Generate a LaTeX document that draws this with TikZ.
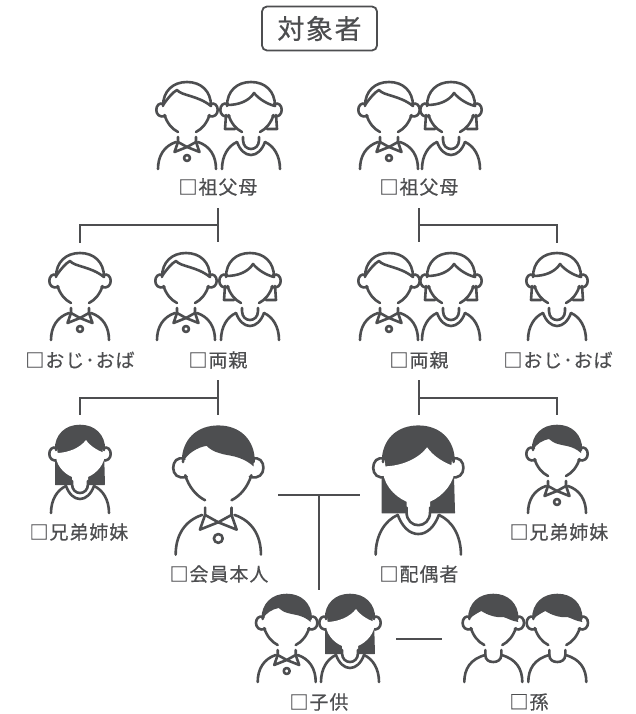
\documentclass[tikz,border=0pt]{standalone}
\usepackage{fontspec}
\setmainfont[FakeBold=0.4]{Noto Sans CJK JP}
\newfontfamily\jplabel[LetterSpace=5,FakeBold=0.4]{Noto Sans CJK JP}
\definecolor{inkgrey}{HTML}{4D4E50}

% ears and lower face, open at the chin
\newcommand{\earface}{
  \draw[fill=white] (-23,-2) .. controls (-33,-6) and (-34,14) .. (-21.5,10);
  \draw[fill=white] (23,-2) .. controls (33,-6) and (34,14) .. (21.5,10);
  \draw (-22.5,9) .. controls (-20,17) and (-15,23) .. (-9,26);
  \draw (22.5,9) .. controls (20,17) and (15,23) .. (9,26);
}
\newcommand{\shoulders}[1]{
  \draw (-29,63) .. controls (-29,50) and (-23,40) .. (-#1,36);
  \draw (29,63) .. controls (29,50) and (23,40) .. (#1,36);
}
% shirt with bow collar and button
\newcommand{\shirt}{
  \shoulders{11}
  \draw (-9,31) -- (-9,36) -- (0,41) -- (9,36) -- (9,31);
  \draw (-9,36) -- (-12.5,46) -- (0,41) -- (12.5,46) -- (9,36);
  \draw (0,52) circle (3);
}
% round neck with two curves
\newcommand{\roundneck}{
  \shoulders{14}
  \draw (-8,31) -- (-8,34) .. controls (-8,40) and (-4,43) .. (0,43) .. controls (4,43) and (8,40) .. (8,34) -- (8,31);
  \draw (-14,36) .. controls (-11,44) and (-6,49) .. (0,49) .. controls (6,49) and (11,44) .. (14,36);
}
\newcommand{\dome}{(-24,0) .. controls (-24,-15) and (-14,-24) .. (0,-24) .. controls (14,-24) and (24,-15) .. (24,0)}

\tikzset{
  person/.style={draw=inkgrey,fill=none,line width=2.6pt,line cap=round,line join=round},
  large/.style={scale=1.47,line width=3.4pt},
  label/.style={inner sep=0pt,text=inkgrey,font=\jplabel\fontsize{19}{19}\selectfont},
  link/.style={draw=inkgrey,line width=2.2pt},
  man/.pic={
    \begin{scope}[person]
    \earface
    \draw \dome;
    \draw (-24,-1) .. controls (-19,-8) and (-14,-14) .. (-10,-16) .. controls (-5,-10) and (10,-11) .. (24,0);
    \shirt
    \end{scope}
  },
  woman/.pic={
    \begin{scope}[person]
    \earface
    \draw \dome;
    \draw (-24,-1) .. controls (-12,-1) and (-2,-5) .. (3,-13) .. controls (8,-7) and (16,-2) .. (24,0);
    \draw (-25,9) -- (-26,23) -- (-16,23);
    \draw (25,9) -- (26,23) -- (16,23);
    \roundneck
    \end{scope}
  },
  darkman/.pic={
    \begin{scope}[person]
    \earface
    \fill[inkgrey] \dome -- (24,3) .. controls (15,-5) and (6,-4) .. (1,-6) .. controls (-3,-7) and (-6,-9) .. (-8,-11) .. controls (-14,-10) and (-21,-6) .. (-24,0) -- cycle;
    \draw \dome;
    \shirt
    \end{scope}
  },
  darkboy/.pic={
    \begin{scope}[person]
    \earface
    \fill[inkgrey] \dome -- (25,3) .. controls (18,2) and (14,-1) .. (10,-2) .. controls (3,-1) and (-6,-4) .. (-12,-8) .. controls (-16,-6) and (-21,-3) .. (-24,0) -- cycle;
    \draw \dome;
    \shoulders{8}
    \draw (-8,31) -- (-8,36) .. controls (-8,41) and (-4,43) .. (0,43) .. controls (4,43) and (8,41) .. (8,36) -- (8,31);
    \end{scope}
  },
  darkwoman/.pic={
    \begin{scope}[person]
    \fill[inkgrey,rounded corners=0.5pt] \dome -- (25,35) -- (-25,35) -- (-25,2) -- cycle;
    \draw[fill=white] (-23,-2) .. controls (-33,-6) and (-34,14) .. (-21.5,10);
    \draw[fill=white] (23,-2) .. controls (33,-6) and (34,14) .. (21.5,10);
    \fill[white] (-24,3) .. controls (-12,3) and (0,-2) .. (6,-10) .. controls (10,-4) and (18,1) .. (25,3) .. controls (25,14) and (17,23) .. (8,27) -- (8,40) -- (-8,40) -- (-8,27) .. controls (-17,23) and (-25,14) .. (-24,3) -- cycle;
    \draw \dome;
    \roundneck
    \end{scope}
  }
}

\begin{document}
\begin{tikzpicture}[x=1pt,y=-1pt]
  \useasboundingbox[fill=white] (0,0) rectangle (636,714);

  % heading
  \node[draw=inkgrey,line width=1.8pt,rounded corners=5pt,minimum width=115pt,minimum height=44pt,inner sep=0pt,text=inkgrey,font=\fontsize{27}{27}\selectfont] (title) at (319.5,28.5) {\addfontfeature{LetterSpace=6}対象者};

  % grandparents
  \pic at (187,106) {man};
  \pic at (251,106) {woman};
  \pic at (389,106) {man};
  \pic at (451,106) {woman};
  \node[label] (gpleft) at (218,187) {□祖父母};
  \node[label] (gpright) at (419,187) {□祖父母};

  % parents row
  \pic at (80,277) {man};
  \pic at (186,277) {man};
  \pic at (250,277) {woman};
  \pic at (389,277) {man};
  \pic at (451,277) {woman};
  \pic at (557,277) {woman};
  \node[label] (uncleleft) at (80,360) {□おじ･おば};
  \node[label] (parleft) at (218,360) {□両親};
  \node[label] (parright) at (419,360) {□両親};
  \node[label] (uncleright) at (558,360) {□おじ･おば};

  % member row
  \pic at (80,450) {darkwoman};
  \pic[large] at (218.3,462) {darkman};
  \pic[large] at (418.3,462) {darkwoman};
  \pic at (557,450) {darkman};
  \node[label] (sibleft) at (79,532) {□兄弟姉妹};
  \node[label] (member) at (219,574) {□会員本人};
  \node[label] (spouse) at (419,574) {□配偶者};
  \node[label] (sibright) at (559,532) {□兄弟姉妹};

  % children row
  \pic at (286.7,619) {darkman};
  \pic at (350,619) {darkwoman};
  \pic at (493.3,619) {darkboy};
  \pic at (557.3,619) {darkboy};
  \node[label] (child) at (319,702) {□子供};
  \node[label] (grandchild) at (529,702) {□孫};

  % connectors
  \coordinate (a1) at (218,208);
  \coordinate (a2) at (218,242);
  \coordinate (a3) at (218,225);
  \coordinate (a4) at (80,225);
  \coordinate (a5) at (80,243);
  \draw[link] (a1) -- (a2);
  \draw[link] (a3) -- (a4) -- (a5);

  \coordinate (b1) at (419,208);
  \coordinate (b2) at (419,242);
  \coordinate (b3) at (419,225);
  \coordinate (b4) at (557,225);
  \coordinate (b5) at (557,243);
  \draw[link] (b1) -- (b2);
  \draw[link] (b3) -- (b4) -- (b5);

  \coordinate (c1) at (218,380);
  \coordinate (c2) at (218,415);
  \coordinate (c3) at (218,398);
  \coordinate (c4) at (80,398);
  \coordinate (c5) at (80,415);
  \draw[link] (c1) -- (c2);
  \draw[link] (c3) -- (c4) -- (c5);

  \coordinate (d1) at (419,380);
  \coordinate (d2) at (419,415);
  \coordinate (d3) at (419,398);
  \coordinate (d4) at (557,398);
  \coordinate (d5) at (557,415);
  \draw[link] (d1) -- (d2);
  \draw[link] (d3) -- (d4) -- (d5);

  \coordinate (e1) at (278,495);
  \coordinate (e2) at (360,495);
  \coordinate (e3) at (319,495);
  \coordinate (e4) at (319,590);
  \draw[link] (e1) -- (e2);
  \draw[link] (e3) -- (e4);

  \coordinate (f1) at (396,639);
  \coordinate (f2) at (442,639);
  \draw[link] (f1) -- (f2);
\end{tikzpicture}
\end{document}
